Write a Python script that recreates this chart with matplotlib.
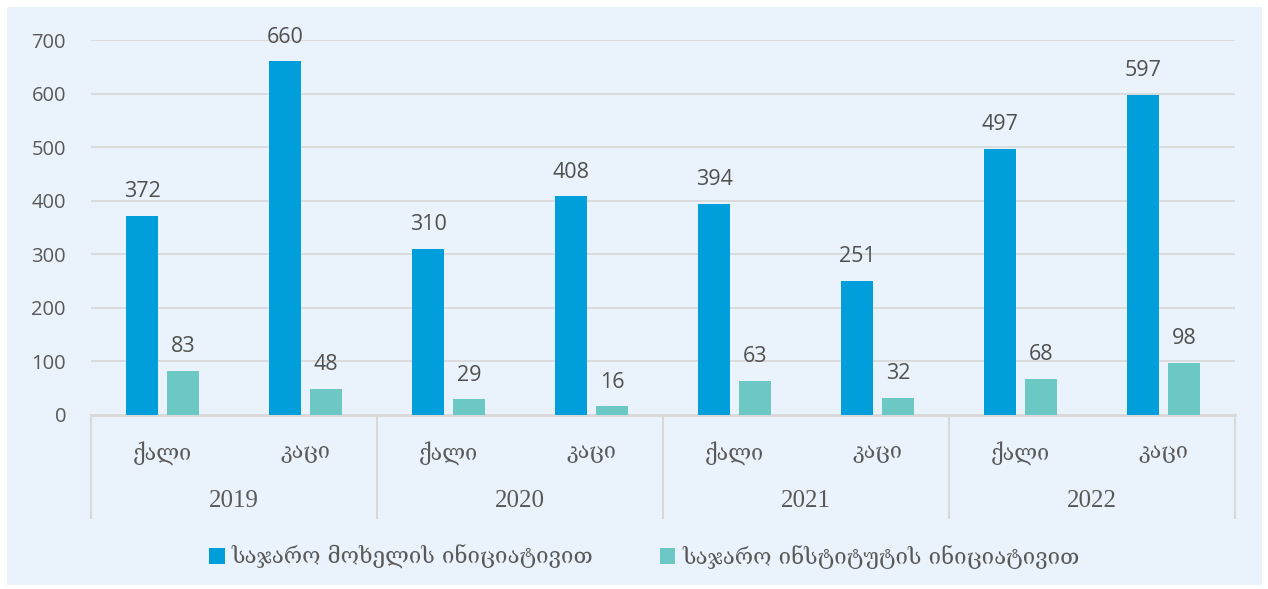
import matplotlib.pyplot as plt
import numpy as np
from matplotlib.patches import Rectangle

years = ['2019', '2020', '2021', '2022']
genders = ['ქალი', 'კაცი']
official = [372, 660, 310, 408, 394, 251, 497, 597]
institute = [83, 48, 29, 16, 63, 32, 68, 98]
series_names = ['საჯარო მოხელის ინიციატივით', 'საჯარო ინსტიტუტის ინიციატივით']

blue = '#009FDC'
teal = '#6BC8C5'
bg = '#EAF3FB'
geo_font = ['DejaVu Serif', 'DejaVu Sans']

fig = plt.figure(figsize=(12.68, 5.89), dpi=100, facecolor='white')
fig.patches.append(Rectangle((7 / 1268, 4 / 589), 1255 / 1268, 578 / 589,
                             transform=fig.transFigure, facecolor=bg,
                             edgecolor='none', zorder=-5))
ax = fig.add_axes([91 / 1268, 1 - 415 / 589, 1144 / 1268, 375 / 589])
ax.set_facecolor('none')

x = np.arange(len(official))
w = 0.224
off = 0.143
b1 = ax.bar(x - off, official, w, color=blue, label=series_names[0], zorder=3)
b2 = ax.bar(x + off, institute, w, color=teal, label=series_names[1], zorder=3)

for bars, vals in [(b1, official), (b2, institute)]:
    for r, v in zip(bars, vals):
        ax.annotate(str(v), (r.get_x() + r.get_width() / 2, v),
                    xytext=(0, 17.5), textcoords='offset points',
                    ha='center', va='center', fontsize=15.5, color='#505050',
                    family='Open Sans', zorder=4)

ax.set_xlim(-0.5, len(official) - 0.5)
ax.set_ylim(0, 700)
ax.set_yticks(range(0, 701, 100))
ax.yaxis.grid(True, color='#D9D9D9', lw=1.3, zorder=0)
for s in ['top', 'right', 'left']:
    ax.spines[s].set_visible(False)
ax.spines['bottom'].set_color('#D9D9D9')
ax.spines['bottom'].set_linewidth(2)
ax.tick_params(axis='y', length=0, pad=18, labelsize=14.5, labelcolor='#595959')
for t in ax.get_yticklabels():
    t.set_family('Open Sans')

ax.set_xticks(x)
ax.set_xticklabels(genders * len(years), family=geo_font, fontsize=15.5,
                   color='#595959')
ax.tick_params(axis='x', length=0, pad=19)

tr = ax.get_xaxis_transform()
for i in range(len(years) + 1):
    ax.plot([i * 2 - 0.5] * 2, [0, -0.275], transform=tr, color='#D9D9D9',
            lw=1.5, clip_on=False)
for i, yr in enumerate(years):
    ax.text(i * 2 + 0.5, -0.23, yr, transform=tr, ha='center', va='center',
            fontsize=18, color='#595959', family='Liberation Serif')

fig.legend(loc='center', bbox_to_anchor=(0.508, 1 - 557 / 589), ncol=2,
           frameon=False, handlelength=0.7, handleheight=0.7, handletextpad=0.3,
           columnspacing=3.0, prop={'family': geo_font, 'size': 16},
           labelcolor='#595959')

fig.savefig('out.png', dpi=100, facecolor='white')
